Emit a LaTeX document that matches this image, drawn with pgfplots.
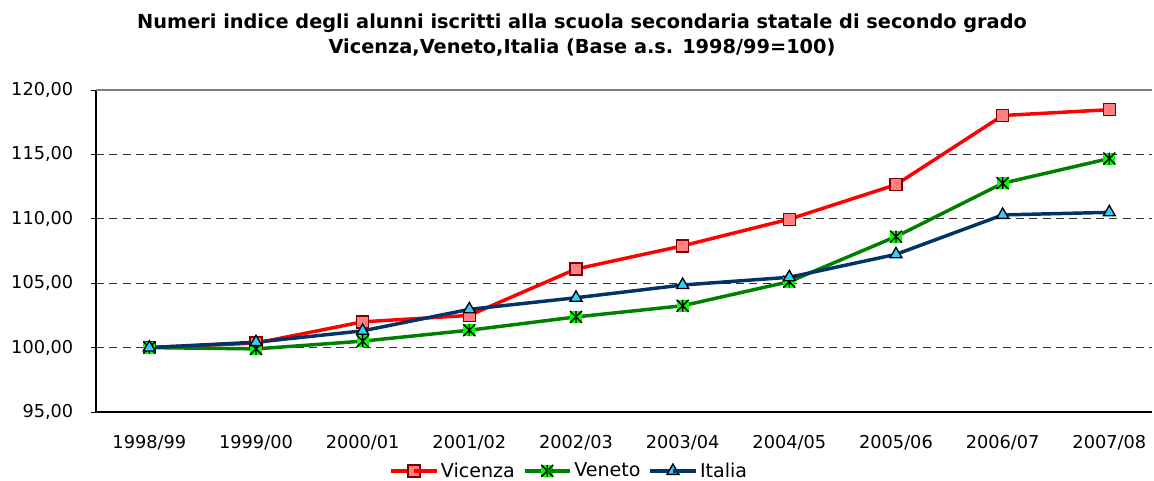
\documentclass[border=0pt]{standalone}
\usepackage{fontspec}
\setmainfont{DejaVu Sans}
\usepackage{pgfplots}
\pgfplotsset{compat=1.18}
\definecolor{vicred}{RGB}{255,0,0}
\definecolor{vicfill}{RGB}{255,128,128}
\definecolor{vicedge}{RGB}{128,0,0}
\definecolor{vengreen}{RGB}{0,128,0}
\definecolor{venfill}{RGB}{0,255,0}
\definecolor{itnavy}{RGB}{0,51,102}
\definecolor{itfill}{RGB}{51,204,255}
\pgfdeclareplotmark{vmark}{%
  \pgfpathrectangle{\pgfpoint{-\pgfplotmarksize}{-\pgfplotmarksize}}{\pgfpoint{2\pgfplotmarksize}{2\pgfplotmarksize}}%
  \pgfsetfillcolor{venfill}\pgfusepath{fill}%
  \pgfsetstrokecolor{black}%
  \pgfpathmoveto{\pgfpoint{-\pgfplotmarksize}{-\pgfplotmarksize}}\pgfpathlineto{\pgfpoint{\pgfplotmarksize}{\pgfplotmarksize}}%
  \pgfpathmoveto{\pgfpoint{-\pgfplotmarksize}{\pgfplotmarksize}}\pgfpathlineto{\pgfpoint{\pgfplotmarksize}{-\pgfplotmarksize}}%
  \pgfpathmoveto{\pgfpoint{0pt}{-\pgfplotmarksize}}\pgfpathlineto{\pgfpoint{0pt}{\pgfplotmarksize}}%
  \pgfusepath{stroke}}
\begin{document}
\begin{tikzpicture}
\useasboundingbox (0,0) rectangle (865.5pt,360.75pt);
\node[font=\fontsize{14.5}{16}\selectfont\bfseries] at (436.5pt,343.5pt) {Numeri indice degli alunni iscritti alla scuola secondaria statale di secondo grado};
\node[font=\fontsize{14.5}{16}\selectfont\bfseries] at (436.5pt,324.75pt) {Vicenza,Veneto,Italia (Base a.s. 1998/99=100)};
\begin{axis}[
  at={(72pt,51.75pt)}, anchor=south west,
  scale only axis, width=792pt, height=241.5pt,
  xmin=-0.5, xmax=9.4, ymin=95, ymax=120,
  axis lines=left, axis line style={-, line width=0.8pt, black},
  xtick={0,...,9},
  xticklabels={1998/99,1999/00,2000/01,2001/02,2002/03,2003/04,2004/05,2005/06,2006/07,2007/08},
  extra x ticks={-0.5,0.5,1.5,2.5,3.5,4.5,5.5,6.5,7.5,8.5},
  extra x tick labels={},
  extra x tick style={major tick length=6pt, tick style={black, line width=0.6pt}, tick align=outside},
  x tick style={draw=none},
  ytick={95,100,...,120},
  y tick style={black, line width=0.6pt},
  major tick length=4pt, tick align=outside,
  yticklabel={\pgfmathprintnumber[fixed,fixed zerofill,precision=2,use comma]{\tick}},
  /pgf/number format/assume math mode=true,
  tick label style={font=\fontsize{13.3}{15}\selectfont},
  yticklabel style={xshift=-9.5pt},
  xticklabel style={yshift=-10pt},
  ymajorgrids, grid style={black!80, dash pattern=on 6pt off 4pt, line width=0.6pt},
  legend style={at={(0.4485,-0.183)}, anchor=center, draw=none, font=\fontsize{14.3}{16}\selectfont, legend columns=3, column sep=0pt, /tikz/every even column/.append style={column sep=4pt}},
  legend image code/.code={\draw[#1] (0pt,0pt) -- (17pt,0pt); \draw[#1] plot coordinates {(17pt,0pt)} ; \draw[#1] (17pt,0pt) -- (34pt,0pt);},
]
\addplot[vicred, line width=2.6pt, mark=square*, mark size=4.5pt, mark options={fill=vicfill, draw=vicedge, line width=1pt}] coordinates {
(0,100.00) (1,100.35) (2,102.00) (3,102.50) (4,106.10) (5,107.90) (6,109.97) (7,112.65) (8,118.02) (9,118.47)};
\addlegendentry{Vicenza}
\addplot[vengreen, line width=2.6pt, mark=vmark, mark size=4.5pt, mark options={line width=1pt}] coordinates {
(0,100.00) (1,99.90) (2,100.50) (3,101.35) (4,102.38) (5,103.25) (6,105.12) (7,108.62) (8,112.76) (9,114.68)};
\addlegendentry{Veneto}
\addplot[itnavy, line width=2.6pt, mark=triangle*, mark size=5.2pt, mark options={fill=itfill, draw=black, line width=1pt}] coordinates {
(0,100.00) (1,100.42) (2,101.30) (3,102.97) (4,103.87) (5,104.86) (6,105.46) (7,107.24) (8,110.30) (9,110.50)};
\addlegendentry{Italia}
\draw[black!50, line width=1pt] (rel axis cs:0,1) -- (rel axis cs:1,1);
\end{axis}
\end{tikzpicture}
\end{document}
